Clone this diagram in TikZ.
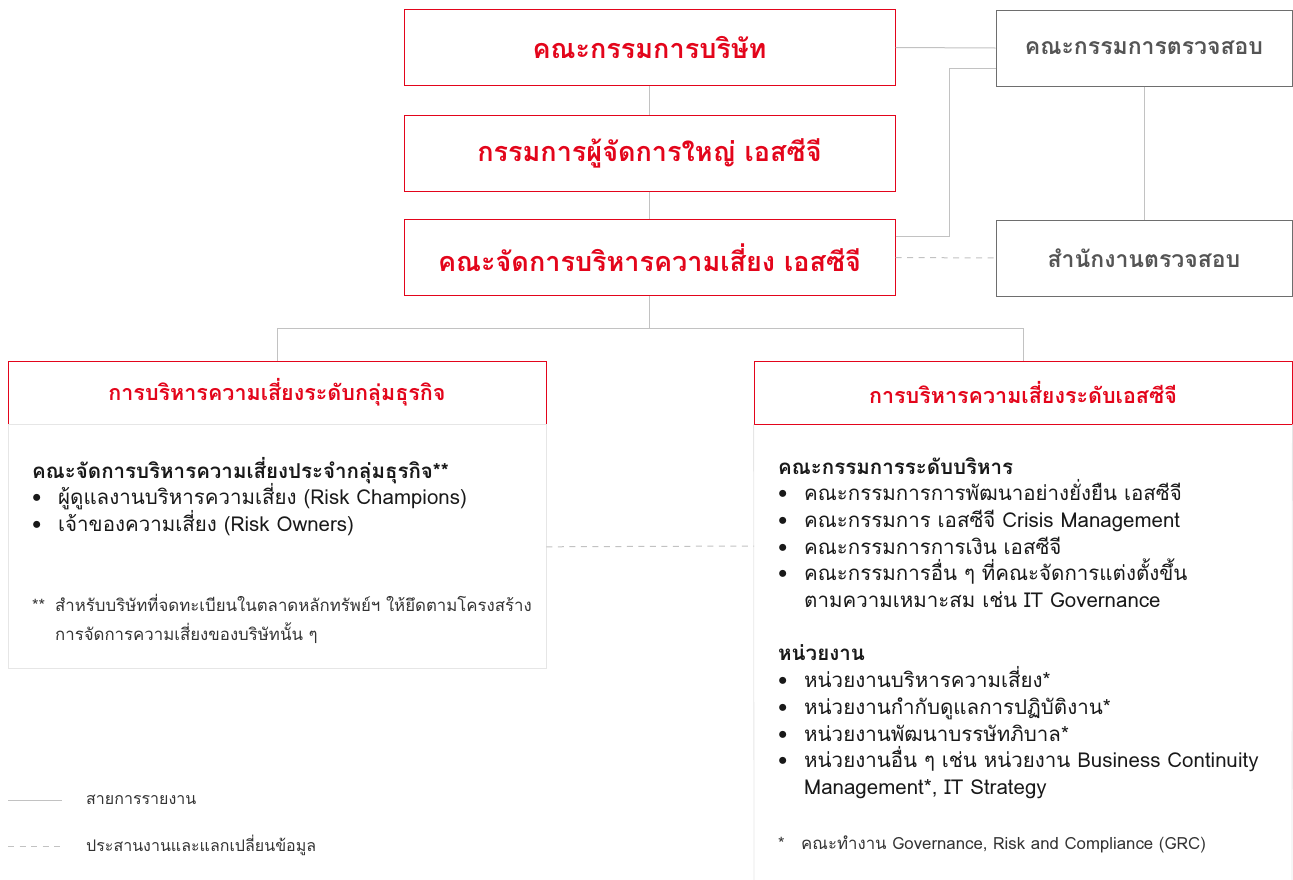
\documentclass[tikz,border=0pt]{standalone}
\usepackage{fontspec}
\setmainfont[Script=Thai]{Loma}
\usetikzlibrary{positioning}
\definecolor{scgred}{HTML}{E3051B}
\definecolor{boxgray}{HTML}{6E6E6E}
\definecolor{linegray}{HTML}{C2C2C2}
\definecolor{textgray}{HTML}{555555}
\definecolor{panelgray}{HTML}{E6E6E6}
\newcommand{\bul}{\makebox[26pt][l]{•}}
\begin{document}
\begin{tikzpicture}[
    x=1pt, y=-1pt,
    redbox/.style={draw=scgred, line width=1pt, minimum width=491pt, minimum height=76pt,
        text=scgred, font=\bfseries\fontsize{27}{31}\selectfont},
    graybox/.style={draw=boxgray, line width=1pt, minimum width=296pt, minimum height=76pt,
        text=textgray, font=\bfseries\fontsize{23}{27}\selectfont},
    panelhead/.style={draw=scgred, line width=0.8pt, minimum width=538pt, minimum height=63pt,
        text=scgred, font=\bfseries\fontsize{21.5}{25}\selectfont},
    panelbody/.style={draw=panelgray, line width=0.8pt},
    listtext/.style={anchor=north west, align=left, inner sep=0pt, text=black!90,
        font=\fontsize{20.5}{26.7}\selectfont},
    notetext/.style={anchor=north west, align=left, inner sep=0pt, text=black!80,
        font=\fontsize{16.8}{29}\selectfont},
    report/.style={draw=linegray, line width=1pt},
    liaise/.style={draw=linegray, line width=1pt, dash pattern=on 6pt off 5.5pt}
]
    \useasboundingbox (0,0) rectangle (1293,879);

    % top of the structure
    \node[redbox] (board) at (649.5,47.5) {คณะกรรมการบริษัท};
    \node[redbox] (ceo) at (649.5,153) {กรรมการผู้จัดการใหญ่ เอสซีจี};
    \node[redbox] (rmc) at (649.5,257.5) {คณะจัดการบริหารความเสี่ยง เอสซีจี};
    \node[graybox] (audit) at (1144,48) {คณะกรรมการตรวจสอบ};
    \node[graybox] (office) at (1144,258) {สำนักงานตรวจสอบ};

    \draw[report] (board) -- (ceo);
    \draw[report] (ceo) -- (rmc);
    \draw[report] (board.east) -- (audit.west);
    \draw[report] ([yshift=21.5pt]rmc.east) -| ([xshift=-46pt,yshift=-20pt]audit.west)
        -- ([yshift=-20pt]audit.west);
    \draw[report] (audit) -- (office);
    \draw[liaise] (rmc.east) -- (office.west);

    % two levels of risk management
    \node[panelhead] (grouphead) at (277,392.5) {การบริหารความเสี่ยงระดับกลุ่มธุรกิจ};
    \node[panelhead] (scghead) at (1023,392.5) {การบริหารความเสี่ยงระดับเอสซีจี};
    \coordinate (split) at ([yshift=-32pt]rmc.south);
    \draw[report] (rmc.south) -- (split);
    \draw[report] (split) -| (grouphead.north);
    \draw[report] (split) -| (scghead.north);

    \node[panelbody, minimum width=538pt, minimum height=244pt, below=0pt of grouphead] (groupbody) {};
    \draw[panelbody] (scghead.south west) -- (754,886) (scghead.south east) -- (1292,886);
    \coordinate (scgleft) at (754,546);
    \draw[liaise] (groupbody.east) -- (scgleft);

    \node[listtext] (grouplist) at (32,457) {%
        \textbf{คณะจัดการบริหารความเสี่ยงประจำกลุ่มธุรกิจ**}\\
        \bul ผู้ดูแลงานบริหารความเสี่ยง (Risk Champions)\\
        \bul เจ้าของความเสี่ยง (Risk Owners)};
    \node[notetext] (groupnote) at (32,594) {%
        \makebox[23pt][l]{**}สำหรับบริษัทที่จดทะเบียนในตลาดหลักทรัพย์ฯ ให้ยึดตามโครงสร้าง\\
        \hspace*{23pt}การจัดการความเสี่ยงของบริษัทนั้น ๆ};

    \node[listtext] (scglist) at (778,457) {%
        \textbf{คณะกรรมการระดับบริหาร}\\
        \bul คณะกรรมการการพัฒนาอย่างยั่งยืน เอสซีจี\\
        \bul คณะกรรมการ เอสซีจี Crisis Management\\
        \bul คณะกรรมการการเงิน เอสซีจี\\
        \bul คณะกรรมการอื่น ๆ ที่คณะจัดการแต่งตั้งขึ้น\\
        \hspace*{26pt}ตามความเหมาะสม เช่น IT Governance\\[26.7pt]
        \textbf{หน่วยงาน}\\
        \bul หน่วยงานบริหารความเสี่ยง*\\
        \bul หน่วยงานกำกับดูแลการปฏิบัติงาน*\\
        \bul หน่วยงานพัฒนาบรรษัทภิบาล*\\
        \bul หน่วยงานอื่น ๆ เช่น หน่วยงาน Business Continuity\\
        \hspace*{26pt}Management*, IT Strategy};
    \node[notetext] (scgnote) at (778,836) {%
        \makebox[23pt][l]{*}คณะทำงาน Governance, Risk and Compliance (GRC)};

    % legend
    \coordinate (repA) at (8,800);
    \coordinate (repB) at (62,800);
    \coordinate (liaA) at (8,846);
    \coordinate (liaB) at (64,846);
    \draw[report] (repA) -- (repB);
    \draw[liaise] (liaA) -- (liaB);
    \node[notetext, anchor=west, font=\fontsize{16}{20}\selectfont] (reptext) at (86,800) {สายการรายงาน};
    \node[notetext, anchor=west, font=\fontsize{16}{20}\selectfont] (liatext) at (86,845) {ประสานงานและแลกเปลี่ยนข้อมูล};
\end{tikzpicture}
\end{document}
